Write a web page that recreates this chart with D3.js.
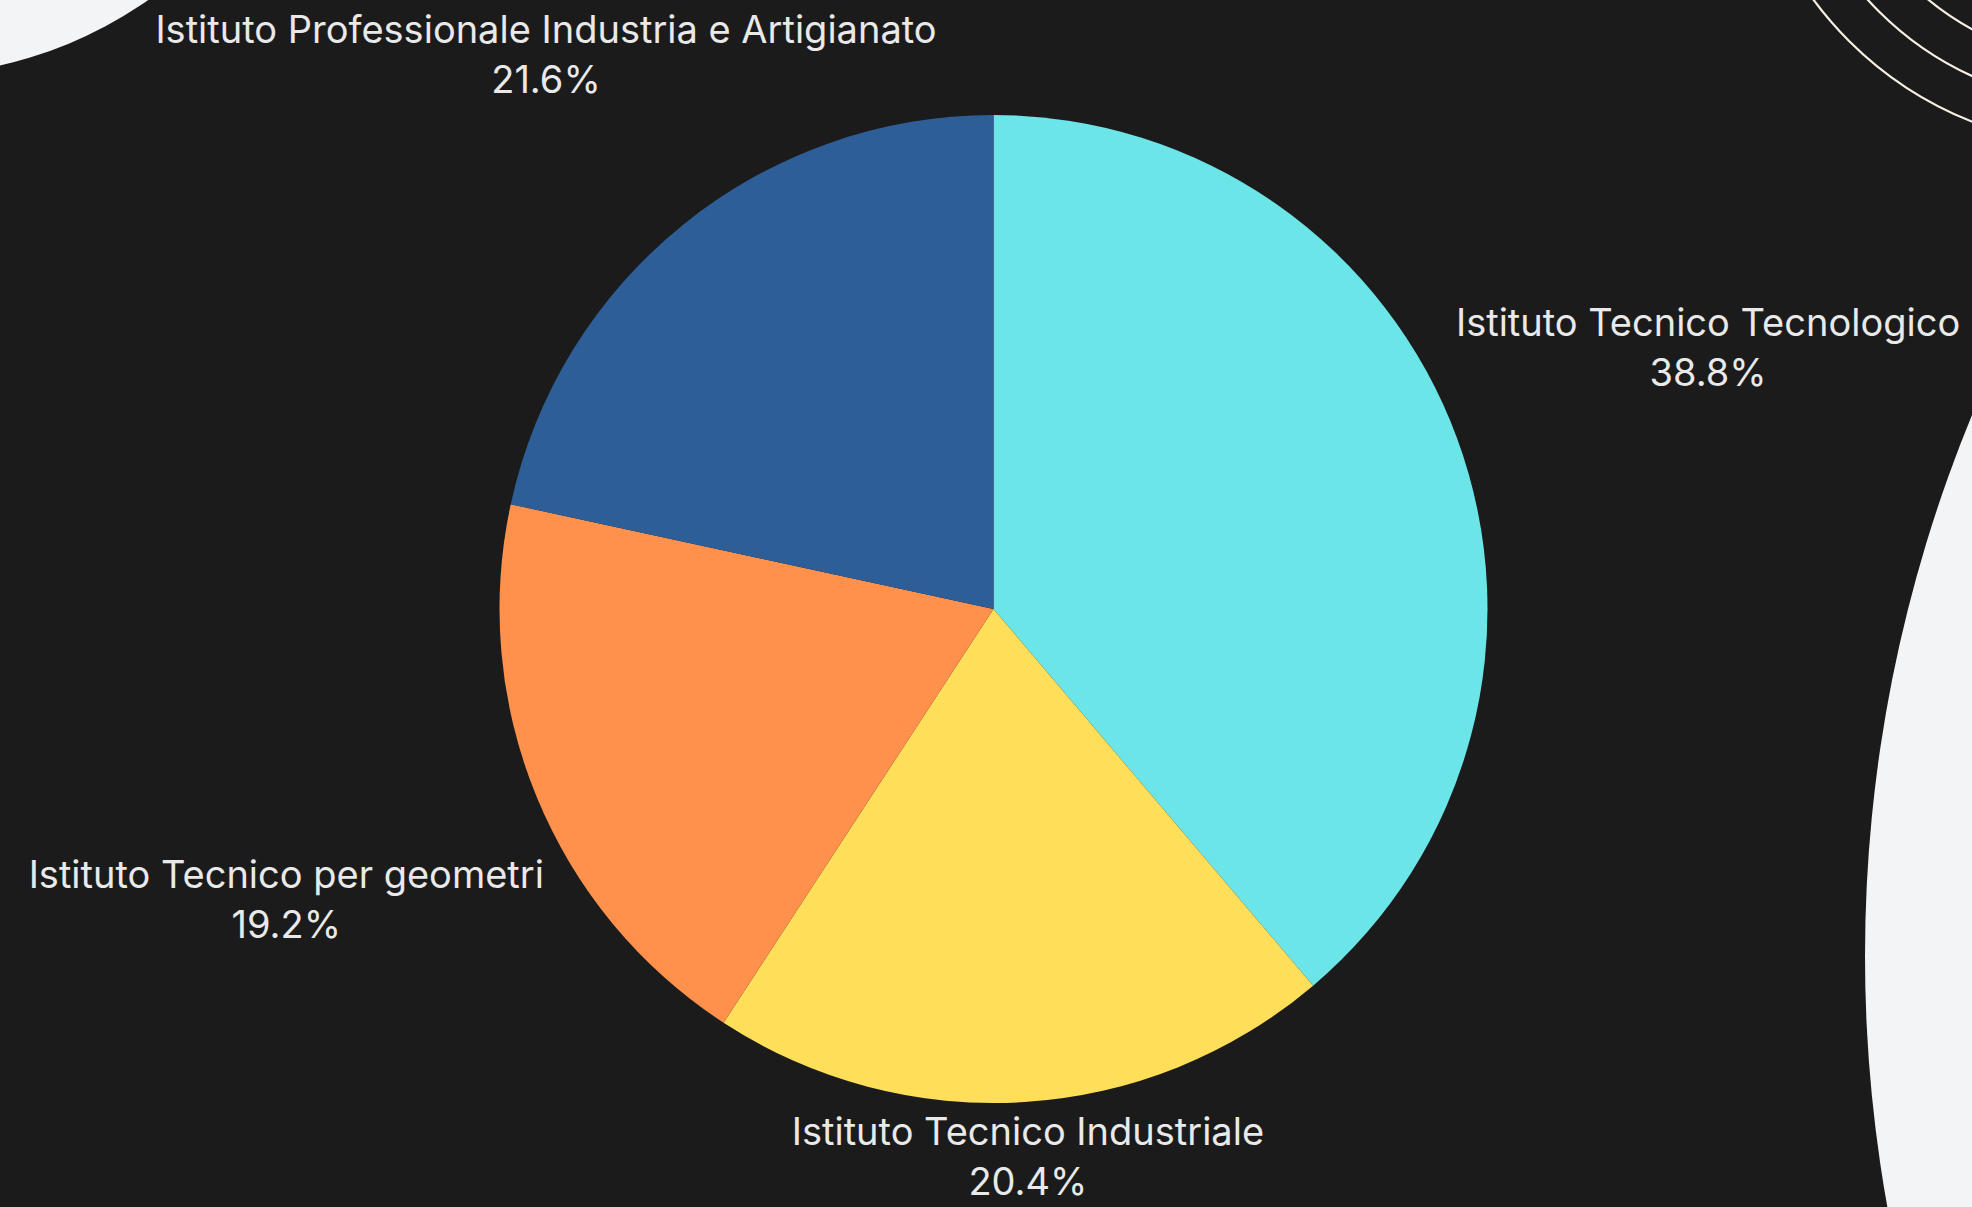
<!DOCTYPE html>
<html>
<head>
<meta charset="utf-8">
<script src="https://cdn.jsdelivr.net/npm/d3@7"></script>
<style>
  html, body { margin: 0; padding: 0; background: #1b1b1b; overflow: hidden; }
  svg { display: block; }
</style>
</head>
<body>
<svg id="chart" width="1972" height="1207"></svg>
<script>
// Share of students by school type
const categories = [
  "Istituto Tecnico Tecnologico",
  "Istituto Tecnico Industriale",
  "Istituto Tecnico per geometri",
  "Istituto Professionale Industria e Artigianato"
];
const shares = [38.8, 20.4, 19.2, 21.6];
const colors = ["#6be5e8", "#ffde59", "#ff914d", "#2e5e97"];

const W = 1972, H = 1207;
const svg = d3.select("#chart");

// Page decoration: light discs and thin concentric arcs
const deco = svg.append("g");
deco.append("circle").attr("cx", -93).attr("cy", -345).attr("r", 421).attr("fill", "#f3f4f6");
deco.append("circle").attr("cx", 3286).attr("cy", 956).attr("r", 1421).attr("fill", "#f3f4f6");
[278, 320, 362].forEach(r => {
  deco.append("circle").attr("cx", 2105).attr("cy", -215).attr("r", r)
    .attr("fill", "none").attr("stroke", "#f5f0e1").attr("stroke-width", 2.2);
});

// Pie
const cx = 993.5, cy = 609, radius = 494;
const pie = d3.pie().sort(null).value(d => d.value);
const arcs = pie(categories.map((c, i) => ({ name: c, value: shares[i], color: colors[i] })));
const arc = d3.arc().innerRadius(0).outerRadius(radius);

const g = svg.append("g").attr("transform", `translate(${cx},${cy})`);
g.selectAll("path.slice").data(arcs).join("path")
  .attr("class", "slice")
  .attr("d", arc)
  .attr("fill", d => d.data.color);

// Outside labels: name + percentage, pushed radially clear of the pie
const fmt = d3.format(".1f");
const pad = 14, topMargin = 6, bottomMargin = 3;
const labels = svg.append("g");
arcs.forEach(d => {
  const lg = labels.append("g");
  const t = lg.append("text")
    .attr("text-anchor", "middle")
    .attr("fill", "#e9e9e9")
    .style("font-family", "Inter, 'DejaVu Sans', sans-serif")
    .style("font-size", "38px");
  t.append("tspan").attr("x", 0).attr("y", 0).text(d.data.name);
  t.append("tspan").attr("x", 0).attr("y", 50).text(fmt(d.data.value) + "%");

  const bb = lg.node().getBBox();
  const hw = bb.width / 2, hh = bb.height / 2;
  const a = (d.startAngle + d.endAngle) / 2;
  const sx = Math.sin(a), sy = -Math.cos(a);
  let dist = radius + pad + hw * Math.abs(sx) + hh * Math.abs(sy);
  // keep the block inside the page by sliding it back along its ray
  let yc = cy + dist * sy;
  if (sy < 0 && yc - hh < topMargin) {
    dist = (cy - (topMargin + hh)) / -sy;
  }
  if (sy > 0 && yc + hh > H - bottomMargin) {
    dist = (H - bottomMargin - hh - cy) / sy;
  }
  const xc = cx + dist * sx;
  yc = cy + dist * sy;
  lg.attr("transform", `translate(${xc - (bb.x + hw)},${yc - (bb.y + hh)})`);
});
</script>
</body>
</html>
